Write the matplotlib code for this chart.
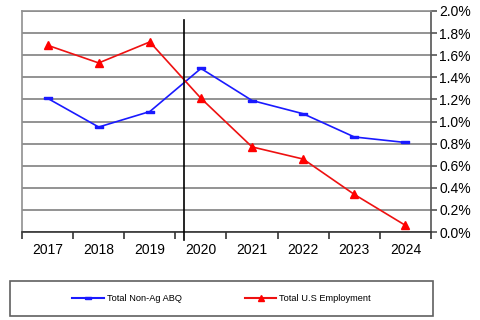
import matplotlib.pyplot as plt
from matplotlib.lines import Line2D
from matplotlib.patches import Rectangle

plt.rcParams['font.family'] = ['Liberation Sans', 'DejaVu Sans']

years = ['2017', '2018', '2019', '2020', '2021', '2022', '2023', '2024']
non_ag_abq = [1.21, 0.95, 1.09, 1.48, 1.19, 1.07, 0.86, 0.81]
us_employment = [1.69, 1.53, 1.72, 1.21, 0.77, 0.66, 0.34, 0.06]
y_ticks = [0.0, 0.2, 0.4, 0.6, 0.8, 1.0, 1.2, 1.4, 1.6, 1.8, 2.0]

# vertical marker between 2019 and 2020 (category index units, percent)
divider_x = 2.66
divider_y = (-0.07, 1.92)

fig = plt.figure(figsize=(4.81, 3.2), dpi=100)
ax = fig.add_axes([22 / 481, 1 - 232 / 320, 409 / 481, 221 / 320])

x = list(range(len(years)))

# blue line uses small flat dash markers
dash = [(-1, -0.3), (1, -0.3), (1, 0.3), (-1, 0.3), (-1, -0.3)]
ax.plot(x, non_ag_abq, color='#1a1aff', lw=1.2, marker=dash, ms=6,
        mfc='#1a1aff', mec='#1a1aff', label='Total Non-Ag ABQ', zorder=3)
ax.plot(x, us_employment, color='#ee1111', lw=1.2, marker='^', ms=6,
        mfc='#ff0000', mec='#ff0000', label='Total U.S Employment', zorder=3)

ax.plot([divider_x, divider_x], divider_y, color='black', lw=1.2,
        clip_on=False, zorder=4)

ax.set_xlim(-0.5, len(years) - 0.5)
ax.set_ylim(0, 2.0)

ax.set_xticks(x)
ax.set_xticklabels(years, fontsize=10)
ax.set_xticks([i - 0.5 for i in range(len(years) + 1)], minor=True)
ax.tick_params(axis='x', which='major', length=0, pad=8)
ax.tick_params(axis='x', which='minor', length=5, width=1.2, color='#333333',
               direction='out')

ax.yaxis.tick_right()
ax.set_yticks(y_ticks)
ax.set_yticklabels([f'{v:.1f}%' for v in y_ticks], fontsize=10)
ax.tick_params(axis='y', length=4, width=1.2, color='#555555', pad=2)

ax.grid(axis='y', color='#808080', lw=1.2)
ax.set_axisbelow(True)

for side in ['left', 'top']:
    ax.spines[side].set_color('#909090')
    ax.spines[side].set_linewidth(1.2)
ax.spines['right'].set_color('#555555')
ax.spines['right'].set_linewidth(1.2)
ax.spines['bottom'].set_color('#333333')
ax.spines['bottom'].set_linewidth(1.2)

# legend box below the chart
lax = fig.add_axes([10 / 481, 1 - 316 / 320, 423 / 481, 35 / 320])
lax.axis('off')
lax.add_patch(Rectangle((0, 0), 1, 1, transform=lax.transAxes, fill=False,
                        ec='#606060', lw=1.2, clip_on=False))
handles = [
    Line2D([], [], color='#1a1aff', lw=1.5, marker=dash, ms=4,
           mfc='#1a1aff', mec='#1a1aff'),
    Line2D([], [], color='#ee1111', lw=1.5, marker='^', ms=4,
           mfc='#ff0000', mec='#ff0000'),
]
lax.legend(handles, ['Total Non-Ag ABQ', 'Total U.S Employment'],
           loc='center', ncol=2, frameon=False, fontsize=6.7,
           handlelength=3.4, handletextpad=0.3, columnspacing=6.8)

fig.savefig('out.png', dpi=100)
